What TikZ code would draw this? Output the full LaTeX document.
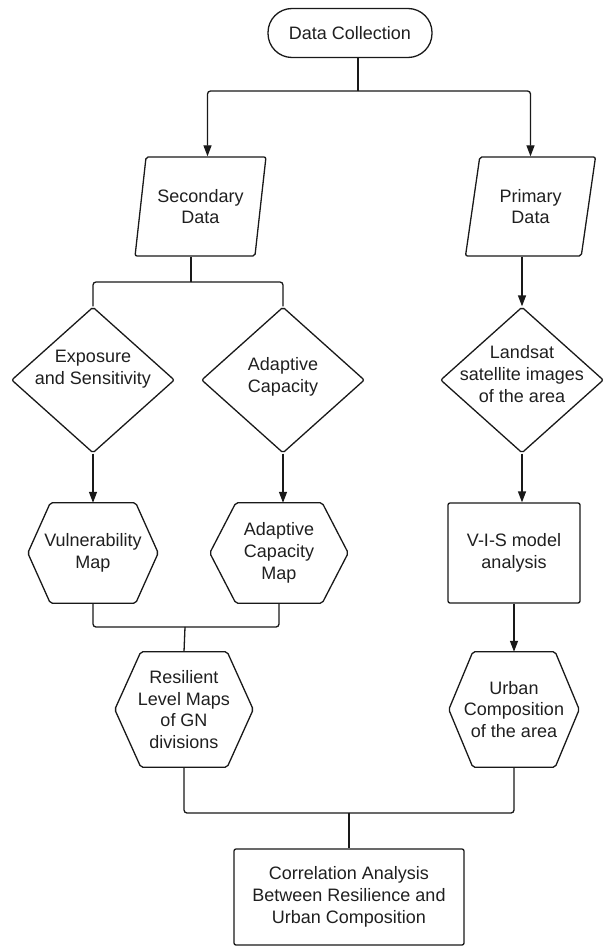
\documentclass[tikz,border=0pt]{standalone}
\usepackage{fontspec}
\setmainfont{Liberation Sans}
\usetikzlibrary{positioning}
\usetikzlibrary{calc}
\usetikzlibrary{shapes.geometric}
\usetikzlibrary{arrows.meta}
\tikzset{>={Triangle[length=11pt,width=8pt]}}
\tikzset{flowtext/.style={font=\fontsize{18}{21.7}\selectfont, text=black!88, align=center, inner sep=0pt}}
\tikzset{flow/.style={flowtext, draw=black!90, line width=1.3pt}}
\tikzset{terminal/.style={flow, rectangle, rounded corners=24pt, minimum width=164pt, minimum height=49pt}}
\tikzset{iobox/.style={flow, trapezium, trapezium left angle=76, trapezium right angle=104, trapezium stretches=true, minimum width=131pt, minimum height=99pt, rounded corners=2pt}}
\tikzset{decision/.style={flow, diamond, minimum width=163pt, minimum height=146pt, rounded corners=2pt}}
\tikzset{dtext/.style={flowtext, yshift=#1}}
\tikzset{hexa/.style={flowtext, rectangle}}
\tikzset{process/.style={flow, rectangle, rounded corners=2pt}}
\tikzset{link/.style={line width=1.3pt, draw=black!90, rounded corners=3pt}}

% outline of a hexagon node: name, length of the side points
\newcommand{\hexout}[2]{%
    \draw [line width=1.3pt, draw=black!90, rounded corners=2pt]
        (#1.west) -- ([xshift=#2]#1.north west) -- ([xshift=-#2]#1.north east)
        -- (#1.east) -- ([xshift=-#2]#1.south east) -- ([xshift=#2]#1.south west)
        -- cycle;}

\begin{document}
\begin{tikzpicture}[x=1pt, y=-1pt]
    \useasboundingbox (0,0) rectangle (605,947);

    \node [terminal] (dc) at (350,33) {Data Collection};

    \node [iobox] (sec) at (200.5,206.5) {Secondary\\Data};
    \node [iobox] (pri) at ($(sec) + (330,0)$) {Primary\\Data};

    \node [decision, label={[dtext=11pt]center:{Exposure\\and Sensitivity}}] (expo) at (93,380) {};
    \node [decision, label={[dtext=3pt]center:{Adaptive\\Capacity}}] (adap) at ($(expo) + (190,0)$) {};
    \node [decision, label={[dtext=6pt]center:{Landsat\\satellite images\\of the area}}] (lsat) at ($(expo) + (429,0)$) {};

    \node [hexa, minimum width=130pt, minimum height=100pt] (vuln) at (93,553) {Vulnerability\\Map};
    \node [hexa, minimum width=138pt, minimum height=100pt] (acmap) at (279,553) {Adaptive\\Capacity\\Map};
    \node [process, minimum width=132pt, minimum height=100pt] (vis) at (514,553) {V-I-S model\\analysis};

    \node [hexa, minimum width=138pt, minimum height=115pt] (res) at (184,709.5) {Resilient\\Level Maps\\of GN\\divisions};
    \node [hexa, minimum width=130pt, minimum height=115pt] (urban) at (514,709.5) {Urban\\Composition\\of the area};

    \node [process, minimum width=230pt, minimum height=96pt] (corr) at (349,897) {Correlation Analysis\\Between Resilience and\\Urban Composition};

    \hexout{vuln}{22.5pt}
    \hexout{acmap}{26pt}
    \hexout{res}{26pt}
    \hexout{urban}{24pt}

    % The forks between the levels.
    \coordinate (fork1) at (358,91);
    \coordinate (fork2) at (191,282);
    \coordinate (fork3) at (185,627);
    \coordinate (fork4) at (349,813);

    \draw [link] (dc.south -| fork1) -- (fork1);
    \draw [link, ->] (fork1) -| ([xshift=7pt]sec.north);
    \draw [link, ->] (fork1) -| (pri.north);

    \draw [link] (sec.south -| fork2) -- (fork2);
    \draw [link] (fork2) -| (expo.north);
    \draw [link] (fork2) -| (adap.north);
    \draw [link, ->] (lsat.north |- pri.south) -- (lsat.north);

    \draw [link, ->] (expo.south) -- (vuln.north);
    \draw [link, ->] (adap.south) -- (adap.south |- acmap.north);
    \draw [link, ->] (lsat.south) -- (lsat.south |- vis.north);

    \draw [link] (vuln.south) |- (fork3);
    \draw [link] (acmap.south) |- (fork3);
    \draw [link] (fork3) -- (res.north);
    \draw [link, ->] (vis.south) -- (urban.north);

    \draw [link] (res.south) |- (fork4);
    \draw [link] (urban.south) |- (fork4);
    \draw [link] (fork4) -- (corr.north);

\end{tikzpicture}
\end{document}
